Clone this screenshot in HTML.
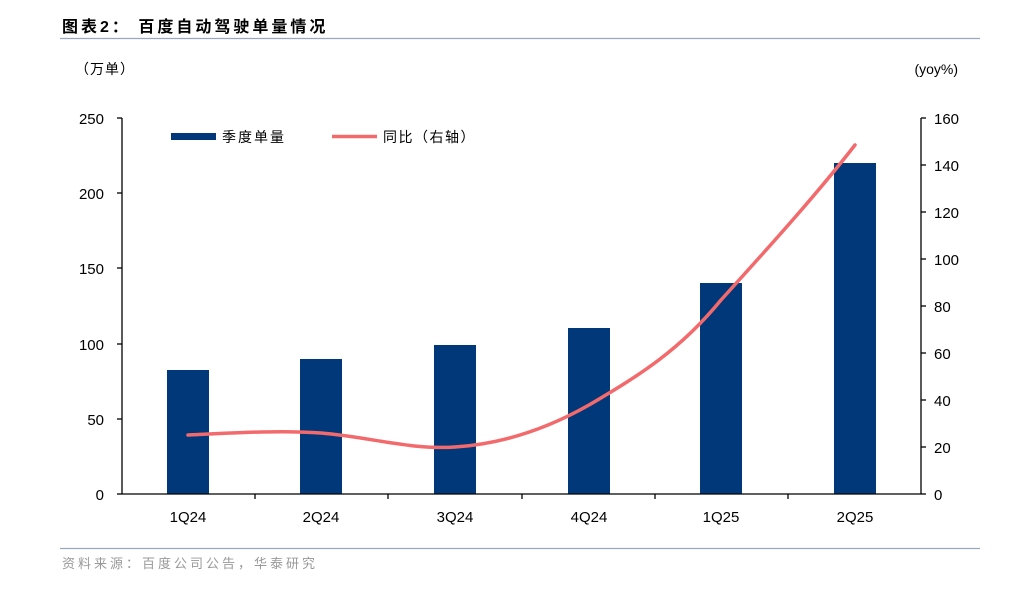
<!DOCTYPE html>
<html><head><meta charset="utf-8"><style>
body{margin:0;background:#fff;width:1024px;height:590px;overflow:hidden}
svg{display:block}
text{font-family:"Liberation Sans","Noto Sans CJK SC",sans-serif}
</style></head><body>
<svg width="1024" height="590" viewBox="0 0 1024 590">
<text x="62" y="32" font-size="16" font-weight="bold" fill="#000" letter-spacing="3" font-family="'Noto Serif CJK SC','Noto Sans CJK SC',sans-serif">图表2：  百度自动驾驶单量情况</text>
<line x1="60" y1="38.5" x2="980" y2="38.5" stroke="#9aa8bf" stroke-width="1.2"/>
<text x="75" y="74" font-size="14" fill="#000" letter-spacing="1" font-family="'Noto Serif CJK SC','Noto Sans CJK SC',sans-serif">（万单）</text>
<text x="958" y="74" font-size="14" fill="#000" text-anchor="end">(yoy%)</text>
<g fill="#00387a">
<rect x="167" y="370" width="42" height="124"/>
<rect x="300" y="359" width="42" height="135"/>
<rect x="434" y="345" width="42" height="149"/>
<rect x="568" y="328" width="42" height="166"/>
<rect x="700" y="283" width="42" height="211"/>
<rect x="834" y="163" width="42" height="331"/>
</g>
<path d="M188,435 C230,433 280,430 321,433 C370,437 410,450 455,447 C500,444 545,430 589,405 C640,375 680,350 721,300 C780,235 820,190 855,145" fill="none" stroke="#f26a6c" stroke-width="3.5" stroke-linecap="round"/>
<g stroke="#000" stroke-width="1.3" fill="none">
<line x1="122" y1="118" x2="122" y2="494"/>
<line x1="122" y1="494" x2="921" y2="494"/>
<line x1="921" y1="118" x2="921" y2="494"/>
<line x1="117" y1="118" x2="122" y2="118"/><line x1="117" y1="193" x2="122" y2="193"/><line x1="117" y1="268" x2="122" y2="268"/><line x1="117" y1="344" x2="122" y2="344"/><line x1="117" y1="419" x2="122" y2="419"/><line x1="117" y1="494" x2="122" y2="494"/>
<line x1="921" y1="118" x2="926" y2="118"/><line x1="921" y1="165" x2="926" y2="165"/><line x1="921" y1="212" x2="926" y2="212"/><line x1="921" y1="259" x2="926" y2="259"/><line x1="921" y1="306" x2="926" y2="306"/><line x1="921" y1="353" x2="926" y2="353"/><line x1="921" y1="400" x2="926" y2="400"/><line x1="921" y1="447" x2="926" y2="447"/><line x1="921" y1="494" x2="926" y2="494"/>
<line x1="255" y1="494" x2="255" y2="499"/><line x1="388" y1="494" x2="388" y2="499"/><line x1="522" y1="494" x2="522" y2="499"/><line x1="655" y1="494" x2="655" y2="499"/><line x1="788" y1="494" x2="788" y2="499"/>
</g>
<g font-size="15" fill="#000" text-anchor="end">
<text x="104" y="124">250</text><text x="104" y="199">200</text><text x="104" y="274">150</text><text x="104" y="350">100</text><text x="104" y="425">50</text><text x="104" y="500">0</text>
</g>
<g font-size="15" fill="#000">
<text x="934" y="124">160</text><text x="934" y="171">140</text><text x="934" y="218">120</text><text x="934" y="265">100</text><text x="934" y="312">80</text><text x="934" y="359">60</text><text x="934" y="406">40</text><text x="934" y="453">20</text><text x="934" y="500">0</text>
</g>
<g font-size="15" fill="#000" text-anchor="middle">
<text x="188" y="522">1Q24</text><text x="321" y="522">2Q24</text><text x="455" y="522">3Q24</text><text x="589" y="522">4Q24</text><text x="721" y="522">1Q25</text><text x="855" y="522">2Q25</text>
</g>
<rect x="171" y="133" width="45" height="7" fill="#00387a"/>
<text x="222" y="142" font-size="14" fill="#000" letter-spacing="2" font-family="'Noto Serif CJK SC','Noto Sans CJK SC',sans-serif">季度单量</text>
<line x1="332" y1="136.5" x2="377" y2="136.5" stroke="#f26a6c" stroke-width="3.5"/>
<text x="383" y="142" font-size="14" fill="#000" letter-spacing="1.5" font-family="'Noto Serif CJK SC','Noto Sans CJK SC',sans-serif">同比（右轴）</text>
<line x1="60" y1="548.5" x2="980" y2="548.5" stroke="#9aa8bf" stroke-width="1.2"/>
<text x="62" y="568" font-size="13" fill="#999" letter-spacing="3" font-family="'Noto Serif CJK SC','Noto Sans CJK SC',sans-serif">资料来源：百度公司公告，华泰研究</text>
</svg>
</body></html>
